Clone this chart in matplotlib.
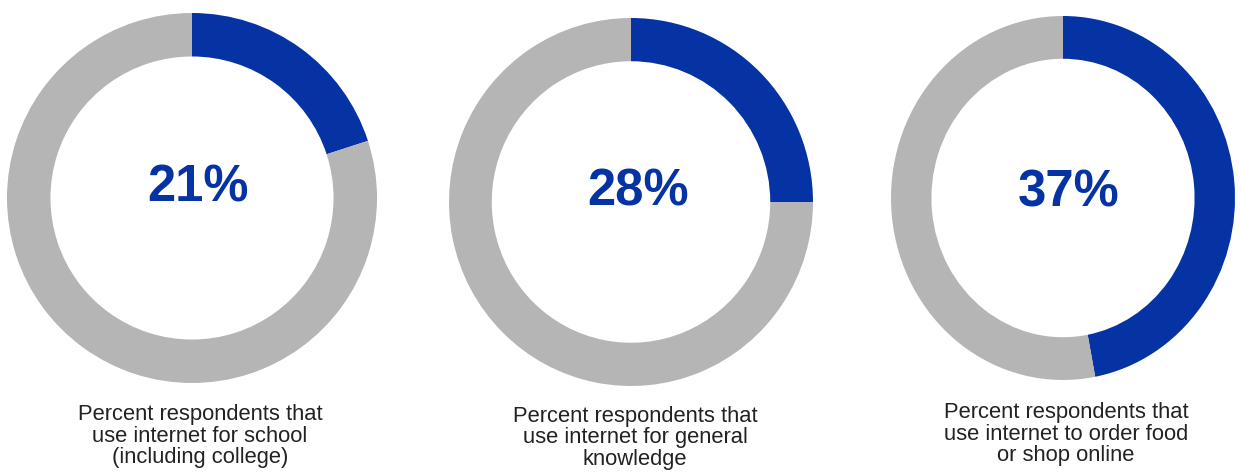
import matplotlib.pyplot as plt

# values as printed in the centre of each ring
pct_labels = [21, 28, 37]
# share of the ring drawn in blue
arc_share = [20, 25, 47]
captions = [
    "Percent respondents that\nuse internet for school\n(including college)",
    "Percent respondents that\nuse internet for general\nknowledge",
    "Percent respondents that\nuse internet to order food\nor shop online",
]

BLUE = "#0633a3"
GREY = "#b5b5b5"
W, H = 1241, 474

# pixel layout of each ring: centre x, centre y (from top), radius x, radius y
rings = [(192, 198, 185, 185), (631, 202, 182, 184), (1063, 198, 172, 182)]
label_pos = [(198, 188), (638, 192), (1069, 193)]
cap_pos = [(200, 436), (635, 438), (1066, 434)]

plt.rcParams['font.family'] = ['Liberation Sans', 'DejaVu Sans']
fig = plt.figure(figsize=(W / 100, H / 100), dpi=100)
fig.patch.set_facecolor("white")

for i in range(3):
    cx, cy, rx, ry = rings[i]
    ax = fig.add_axes([(cx - rx) / W, (H - cy - ry) / H, 2 * rx / W, 2 * ry / H])
    ax.pie([arc_share[i], 100 - arc_share[i]], colors=[BLUE, GREY],
           startangle=90, counterclock=False, radius=1,
           wedgeprops=dict(width=0.235, edgecolor="none"))
    ax.set_aspect("auto")
    ax.set_xlim(-1, 1)
    ax.set_ylim(-1, 1)
    ax.axis("off")

    lx, ly = label_pos[i]
    fig.text(lx / W, 1 - ly / H, f"{pct_labels[i]}%", ha="center", va="center",
             fontsize=36.5, fontweight="bold", color=BLUE)
    px, py = cap_pos[i]
    fig.text(px / W, 1 - py / H, captions[i], ha="center", va="center",
             fontsize=15.8, color="#222222", linespacing=1.06)

fig.savefig("out.png", dpi=100)
